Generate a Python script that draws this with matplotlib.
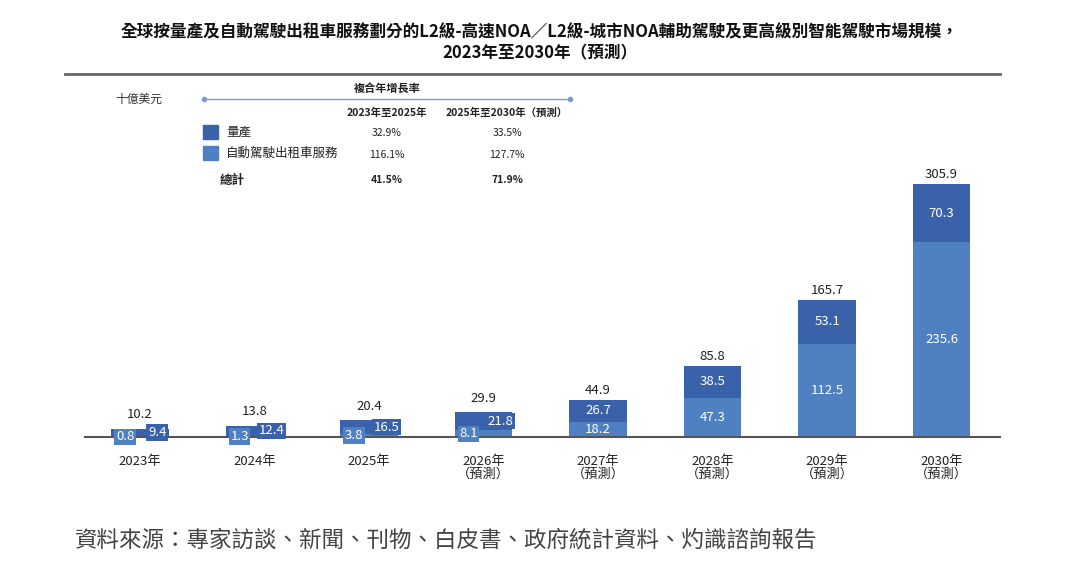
import matplotlib.pyplot as plt
import matplotlib.lines as mlines
import matplotlib.patches as mpatches
import numpy as np

plt.rcParams['font.family'] = ['Noto Sans CJK TC', 'DejaVu Sans']

## data ##
years = ['2023年', '2024年', '2025年', '2026年\n（預測）', '2027年\n（預測）',
         '2028年\n（預測）', '2029年\n（預測）', '2030年\n（預測）']
mass_prod = [9.4, 12.4, 16.5, 21.8, 26.7, 38.5, 53.1, 70.3]      # 量產
robotaxi = [0.8, 1.3, 3.8, 8.1, 18.2, 47.3, 112.5, 235.6]       # 自動駕駛出租車服務
totals = [10.2, 13.8, 20.4, 29.9, 44.9, 85.8, 165.7, 305.9]

cagr_cols = ['2023年至2025年', '2025年至2030年（預測）']
cagr_mass = ['32.9%', '33.5%']
cagr_taxi = ['116.1%', '127.7%']
cagr_total = ['41.5%', '71.9%']

## formatting ##
c_dark = '#3a62aa'
c_light = '#4f80c2'
fs = 9.5

fig = plt.figure(figsize=(10.8, 5.73), dpi=100)
ax = fig.add_axes([85 / 1080, 136 / 573, 915 / 1080, 273 / 573])

x = np.arange(len(years))
w = 0.5
ax.bar(x, robotaxi, w, color=c_light, zorder=2)
ax.bar(x, mass_prod, w, bottom=robotaxi, color=c_dark, zorder=2)

ax.set_xlim(-0.48, 7.51)
ax.set_ylim(0, 330)

for i in range(len(years)):
    if totals[i] < 40:
        # tiny bars: labels sit on small coloured boxes
        ax.text(x[i], totals[i] + 9, f'{totals[i]:.1f}', ha='center', va='bottom',
                fontsize=fs, color='#222222')
        ax.text(x[i] - 0.13, robotaxi[i] * 0.5, f'{robotaxi[i]:.1f}', ha='center',
                va='center', fontsize=fs, color='white', zorder=5,
                bbox=dict(boxstyle='square,pad=0.12', fc=c_light, ec='none'))
        ax.text(x[i] + 0.15, robotaxi[i] + mass_prod[i] * 0.5, f'{mass_prod[i]:.1f}',
                ha='center', va='center', fontsize=fs, color='white', zorder=5,
                bbox=dict(boxstyle='square,pad=0.12', fc=c_dark, ec='none'))
    else:
        ax.text(x[i], totals[i] + 4, f'{totals[i]:.1f}', ha='center', va='bottom',
                fontsize=fs, color='#222222')
        ax.text(x[i], robotaxi[i] / 2, f'{robotaxi[i]:.1f}', ha='center', va='center',
                fontsize=fs, color='white', zorder=3)
        ax.text(x[i], robotaxi[i] + mass_prod[i] / 2, f'{mass_prod[i]:.1f}', ha='center',
                va='center', fontsize=fs, color='white', zorder=3)

ax.set_xticks(x)
ax.set_xticklabels(years, fontsize=fs, color='#222222', linespacing=1.0)
ax.tick_params(axis='x', length=0, pad=13)
ax.set_yticks([])
for s in ['top', 'right', 'left']:
    ax.spines[s].set_visible(False)
ax.spines['bottom'].set_color('#555555')
ax.spines['bottom'].set_linewidth(1.5)
ax.spines['bottom'].set_zorder(4)

## title ##
fig.text(540 / 1080, 1 - 32 / 573,
         '全球按量產及自動駕駛出租車服務劃分的L2級-高速NOA／L2級-城市NOA輔助駕駛及更高級別智能駕駛市場規模，',
         ha='center', va='center', fontsize=12, fontweight='bold', color='#111111')
fig.text(540 / 1080, 1 - 53 / 573, '2023年至2030年（預測）', ha='center', va='center',
         fontsize=12, fontweight='bold', color='#111111')
fig.add_artist(mlines.Line2D([65 / 1080, 1000 / 1080], [1 - 74 / 573, 1 - 74 / 573],
                             color='#666666', lw=2))

## unit and CAGR table ##
fig.text(115 / 1080, 1 - 99 / 573, '十億美元', ha='left', va='center', fontsize=8.5,
         color='#333333', style='italic')
fig.text(387 / 1080, 1 - 88 / 573, '複合年增長率', ha='center', va='center', fontsize=8,
         fontweight='bold', color='#222222')
fig.add_artist(mlines.Line2D([204 / 1080, 570 / 1080], [1 - 99 / 573, 1 - 99 / 573],
                             color='#7f9cc9', lw=1, marker='o', markersize=3,
                             markevery=[0, 1]))
col_x = [387 / 1080, 507 / 1080]
for cx, lab in zip(col_x, cagr_cols):
    fig.text(cx, 1 - 113 / 573, lab, ha='center', va='center', fontsize=7.5,
             fontweight='bold', color='#222222')

fig.add_artist(mpatches.Rectangle((203 / 1080, 1 - 139 / 573), 15 / 1080, 14 / 573,
                                  color=c_dark, transform=fig.transFigure))
fig.add_artist(mpatches.Rectangle((203 / 1080, 1 - 160 / 573), 15 / 1080, 14 / 573,
                                  color=c_light, transform=fig.transFigure))
fig.text(226 / 1080, 1 - 132 / 573, '量產', ha='left', va='center', fontsize=9,
         color='#222222')
fig.text(226 / 1080, 1 - 153 / 573, '自動駕駛出租車服務', ha='left', va='center',
         fontsize=9, color='#222222')
fig.text(220 / 1080, 1 - 180 / 573, '總計', ha='left', va='center', fontsize=9,
         fontweight='bold', color='#222222')
for cx, a, b, c in zip(col_x, cagr_mass, cagr_taxi, cagr_total):
    fig.text(cx, 1 - 133 / 573, a, ha='center', va='center', fontsize=7.5, color='#222222')
    fig.text(cx, 1 - 155 / 573, b, ha='center', va='center', fontsize=7.5, color='#222222')
    fig.text(cx, 1 - 180 / 573, c, ha='center', va='center', fontsize=7.5,
             fontweight='bold', color='#222222')

## source ##
fig.text(75 / 1080, 1 - 540 / 573,
         '資料來源：專家訪談、新聞、刊物、白皮書、政府統計資料、灼識諮詢報告',
         ha='left', va='center', fontsize=16.2, color='#444444', style='italic')

fig.savefig('out.png', dpi=100, facecolor='white')
